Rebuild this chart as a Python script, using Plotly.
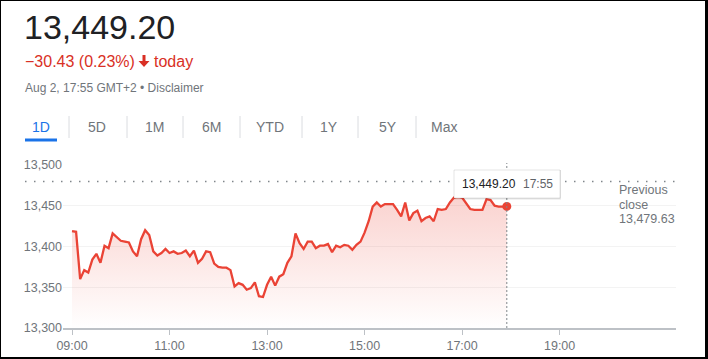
import plotly.graph_objects as go
import pandas as pd

# ---------------- data ----------------
prices = [13419, 13418, 13360, 13371, 13368, 13384, 13391, 13380, 13401, 13398,
          13416, 13412, 13407, 13406, 13405, 13394, 13388, 13409, 13420, 13414,
          13394, 13389, 13392, 13397, 13392, 13394, 13391, 13392, 13395, 13388,
          13395, 13380, 13385, 13394, 13393, 13379, 13375, 13374, 13374, 13371,
          13351, 13355, 13353, 13347, 13349, 13356, 13339, 13338, 13353, 13363,
          13352, 13363, 13366, 13380, 13388, 13416, 13404, 13397, 13406, 13406,
          13398, 13401, 13401, 13403, 13393, 13401, 13399, 13402, 13401, 13396,
          13402, 13406, 13417, 13431, 13449, 13454, 13449, 13452, 13452, 13452,
          13445, 13437, 13454, 13432, 13441, 13444, 13431, 13435, 13437, 13431,
          13446, 13445, 13446, 13454, 13460, 13461, 13460, 13453, 13446, 13445,
          13445, 13445, 13458, 13457, 13450, 13449, 13449, 13449.20]
times = pd.date_range("2023-08-02 09:00", periods=len(prices), freq="5min")
prev_close = 13479.63
y_ticks = [13300, 13350, 13400, 13450, 13500]
x_tick_labels = ["09:00", "11:00", "13:00", "15:00", "17:00", "19:00"]
x_tick_vals = ["2023-08-02 " + t for t in x_tick_labels]
tabs = ["1D", "5D", "1M", "6M", "YTD", "1Y", "5Y", "Max"]
last_price_text = "13,449.20"
change_text = "\u221230.43 (0.23%)"
today_text = "today"
date_text = "Aug 2, 17:55 GMT+2 \u2022 Disclaimer"
prev_close_lines = ["Previous", "close", "13,479.63"]

# ---------------- geometry ----------------
W, H = 708, 359
ML, MR, MT, MB = 63, 32, 165, 31
PW, PH = W - ML - MR, H - MT - MB


def px(x):
    return (x - ML) / PW


def py(y):
    return 1 - (y - MT) / PH


RED = "#ea4335"
TXTRED = "#d93025"
GREY = "#70757a"
FONT = "Arial, Liberation Sans, sans-serif"

fig = go.Figure()
fig.add_trace(go.Scatter(
    x=times, y=prices, mode="lines",
    line=dict(color=RED, width=2.3),
    fill="tozeroy",
    fillgradient=dict(type="vertical",
                      colorscale=[[0, "rgba(234,67,53,0)"], [1, "rgba(234,67,53,0.24)"]],
                      start=13300, stop=13465),
    hoverinfo="skip", showlegend=False))
fig.add_trace(go.Scatter(
    x=[times[-1]], y=[prices[-1]], mode="markers",
    marker=dict(color=RED, size=9), hoverinfo="skip", showlegend=False))

shapes = []
ann = []

# previous close dotted line
shapes.append(dict(type="line", xref="paper", yref="y", x0=px(25), x1=px(676),
                   y0=prev_close, y1=prev_close,
                   line=dict(color="#80868b", width=1.5, dash="1.5px,7.5px"), layer="above"))
# vertical crosshair at last point
shapes.append(dict(type="line", xref="x", yref="paper", x0=times[-1], x1=times[-1],
                   y0=0, y1=py(163), line=dict(color="#80868b", width=1, dash="2px,2px"),
                   layer="above"))
# tooltip (shadow + box)
shapes.append(dict(type="rect", xref="paper", yref="paper", x0=px(454), x1=px(561),
                   y0=py(199.5), y1=py(170), fillcolor="rgba(0,0,0,0.10)",
                   line=dict(width=0), layer="above"))
shapes.append(dict(type="rect", xref="paper", yref="paper", x0=px(454), x1=px(560),
                   y0=py(198), y1=py(170), fillcolor="white",
                   line=dict(color="rgba(0,0,0,0.10)", width=1), layer="above"))
ann.append(dict(xref="paper", yref="paper", x=px(460), y=py(184), xanchor="left", yanchor="middle",
                text="13,449.20", showarrow=False, font=dict(family=FONT, size=12, color="#202124")))
ann.append(dict(xref="paper", yref="paper", x=px(521), y=py(184), xanchor="left", yanchor="middle",
                text="17:55", showarrow=False, font=dict(family=FONT, size=12, color="#5f6368")))

# previous close text
for i, t in enumerate(prev_close_lines):
    ann.append(dict(xref="paper", yref="paper", x=px(617), y=py(190 + 14.5 * i),
                    xanchor="left", yanchor="middle", text=t, showarrow=False,
                    font=dict(family=FONT, size=12.5, color=GREY)))

# header
ann.append(dict(xref="paper", yref="paper", x=px(22), y=py(27), xanchor="left", yanchor="middle",
                text=last_price_text, showarrow=False, font=dict(family=FONT, size=34, color="#202124")))
ann.append(dict(xref="paper", yref="paper", x=px(23), y=py(61), xanchor="left", yanchor="middle",
                text=change_text, showarrow=False, font=dict(family=FONT, size=16, color=TXTRED)))
ann.append(dict(xref="paper", yref="paper", x=px(152), y=py(61), xanchor="left", yanchor="middle",
                text=today_text, showarrow=False, font=dict(family=FONT, size=16, color=TXTRED)))
# down-arrow icon
ax = [143, 145.5, 145.5, 149.5, 144, 138.5, 142.5, 142.5]
ay = [55, 55, 61, 61, 67, 61, 61, 55]
path = "M " + " L ".join(f"{px(a)},{py(b)}" for a, b in zip(ax, ay)) + " Z"
shapes.append(dict(type="path", xref="paper", yref="paper", path=path,
                   fillcolor=TXTRED, line=dict(width=0)))
ann.append(dict(xref="paper", yref="paper", x=px(23), y=py(88), xanchor="left", yanchor="middle",
                text=date_text, showarrow=False, font=dict(family=FONT, size=12, color=GREY)))

# tabs
tab_centers = [41, 97, 154, 211, 270, 329, 388, 444]
for t, c in zip(tabs, tab_centers):
    ann.append(dict(xref="paper", yref="paper", x=px(c), y=py(127), xanchor="center", yanchor="middle",
                    text=t, showarrow=False,
                    font=dict(family=FONT, size=14, color="#1a73e8" if t == "1D" else GREY)))
for sx in [69, 127, 183, 240, 302, 358, 416]:
    shapes.append(dict(type="line", xref="paper", yref="paper", x0=px(sx), x1=px(sx),
                       y0=py(116), y1=py(138), line=dict(color="#dadce0", width=1)))
shapes.append(dict(type="rect", xref="paper", yref="paper", x0=px(25), x1=px(57),
                   y0=py(141.5), y1=py(138.5), fillcolor="#1a73e8", line=dict(width=0)))

# outer border
for (x0, x1, y0, y1) in [(0, 1, 0, H), (705, W, 0, H), (0, W, 0, 1), (0, W, 357, H)]:
    shapes.append(dict(type="rect", xref="paper", yref="paper", x0=px(x0), x1=px(x1),
                       y0=py(y1), y1=py(y0), fillcolor="black", line=dict(width=0), layer="above"))

fig.update_layout(
    width=W, height=H,
    margin=dict(l=ML, r=MR, t=MT, b=MB, pad=0, autoexpand=False),
    paper_bgcolor="white", plot_bgcolor="white",
    font=dict(family=FONT, color=GREY, size=12.5),
    shapes=shapes, annotations=ann,
    xaxis=dict(type="date", range=["2023-08-02 08:48:54", "2023-08-02 21:23:12"],
               tickvals=x_tick_vals, ticktext=x_tick_labels, automargin=False,
               showgrid=False, zeroline=False,
               showline=True, linecolor="#bdc1c6", linewidth=2,
               ticks="outside", ticklen=5, tickcolor="#bdc1c6", tickwidth=1,
               tickfont=dict(size=12.5, color=GREY), fixedrange=True),
    yaxis=dict(range=[13300, 13500], tickvals=y_ticks, automargin=False,
               ticktext=[f"{v:,}" for v in y_ticks],
               showgrid=True, gridcolor="#f3f3f3", gridwidth=1, zeroline=False,
               showline=False, ticks="", ticklabelstandoff=0,
               tickfont=dict(size=12.5, color=GREY), fixedrange=True),
)

fig.write_html("out.html", config={"displayModeBar": False})
